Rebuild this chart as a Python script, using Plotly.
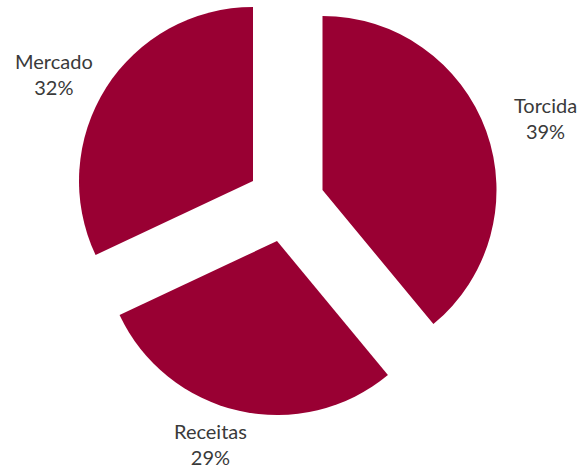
import plotly.graph_objects as go

# Share of each source
labels = ["Torcida", "Receitas", "Mercado"]
values = [39, 29, 32]

W, H = 584, 469
R = 174
COLOR = "#990033"

# Apex of each exploded wedge (pixels from top-left) and label centre
apex = [(322.5, 190), (277, 241), (253, 181)]
label_pos = [(545, 118), (210, 444), (54, 74)]

fig = go.Figure()
total = sum(values)
for i, (cx, cy) in enumerate(apex):
    colors = [COLOR if j == i else "rgba(0,0,0,0)" for j in range(len(labels))]
    fig.add_trace(go.Pie(
        labels=labels,
        values=values,
        sort=False,
        direction="clockwise",
        rotation=0,
        marker=dict(colors=colors, line=dict(width=0)),
        textinfo="none",
        hoverinfo="label+percent",
        showlegend=False,
        domain=dict(
            x=[(cx - R) / W, (cx + R) / W],
            y=[1 - (cy + R) / H, 1 - (cy - R) / H],
        ),
    ))

for (x, y), lab, v in zip(label_pos, labels, values):
    fig.add_annotation(
        x=x / W, y=1 - y / H, xref="paper", yref="paper",
        xanchor="center", yanchor="middle",
        text=f"{lab}<br>{round(100 * v / total)}%",
        showarrow=False, align="center",
        font=dict(family="Lato, Open Sans, sans-serif", size=20, color="#3a3a3a"),
    )

fig.update_layout(
    width=W, height=H,
    margin=dict(l=0, r=0, t=0, b=0),
    paper_bgcolor="white",
    plot_bgcolor="white",
)

fig.write_html("out.html")
